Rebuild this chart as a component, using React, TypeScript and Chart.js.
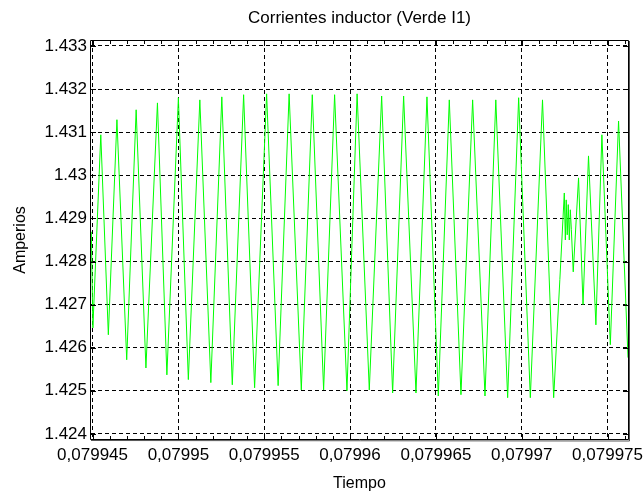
import { useEffect, useRef } from "react";
import { Chart, registerables } from "chart.js";

Chart.register(...registerables);

const chartTitle = "Corrientes inductor (Verde I1)";
const xAxisTitle = "Tiempo";
const yAxisTitle = "Amperios";

const xTickValues = [0.079945, 0.07995, 0.079955, 0.07996, 0.079965, 0.07997, 0.079975];
const xTickLabels = ["0,079945", "0,07995", "0,079955", "0,07996", "0,079965", "0,07997", "0,079975"];
const yTickValues = [1.424, 1.425, 1.426, 1.427, 1.428, 1.429, 1.43, 1.431, 1.432, 1.433];
const yTickLabels = ["1.424", "1.425", "1.426", "1.427", "1.428", "1.429", "1.43", "1.431", "1.432", "1.433"];

const xMin = 0.07994491;
const xMax = 0.07997619;
const yMin = 1.423882;
const yMax = 1.433116;

// Inductor current I1 (green trace): time [s]
const timeS = [
  0.07994493, 0.07994502, 0.07994548, 0.07994592, 0.07994642, 0.07994699, 0.07994754, 0.07994811,
  0.07994878, 0.07994933, 0.07995, 0.07995058, 0.07995125, 0.07995189, 0.07995253, 0.07995314,
  0.0799538, 0.07995444, 0.07995514, 0.07995581, 0.07995645, 0.07995716, 0.0799578, 0.07995846,
  0.0799591, 0.07995982, 0.07996041, 0.07996112, 0.07996184, 0.07996248, 0.07996312, 0.07996384,
  0.07996448, 0.07996514, 0.07996578, 0.07996646, 0.07996714, 0.07996786, 0.07996849, 0.07996918,
  0.07996982, 0.0799705, 0.07997121, 0.07997186, 0.07997222, 0.07997248, 0.07997254, 0.07997259,
  0.07997265, 0.07997271, 0.07997277, 0.07997283, 0.07997289, 0.079973, 0.07997331, 0.07997357,
  0.07997389, 0.07997432, 0.07997467, 0.07997516, 0.07997564, 0.07997619,
];

// Inductor current I1: amperes
const currentA = [
  1.42869, 1.42646, 1.43094, 1.4263, 1.43129, 1.42572, 1.43152, 1.42553,
  1.43168, 1.42537, 1.4318, 1.42526, 1.43175, 1.42519, 1.43182, 1.42514,
  1.43187, 1.42507, 1.43189, 1.42512, 1.43189, 1.42502, 1.43187, 1.42502,
  1.43187, 1.425, 1.43189, 1.42502, 1.43184, 1.42495, 1.43184, 1.42495,
  1.43182, 1.42488, 1.43175, 1.42491, 1.43175, 1.42488, 1.43175, 1.42484,
  1.4318, 1.42484, 1.43175, 1.42484, 1.42758, 1.42959, 1.4285, 1.42943,
  1.42862, 1.42932, 1.4285, 1.4292, 1.42874, 1.42776, 1.42994, 1.427,
  1.43045, 1.42653, 1.43094, 1.42607, 1.43126, 1.42577,
];

const FONT = "'Liberation Sans', Arial, sans-serif";

const framePlugin = {
  id: "matlabFrame",
  afterDraw(chart: any) {
    const { ctx, chartArea } = chart;
    const { left, right, top, bottom } = chartArea;
    const xs = chart.scales.x;
    const ys = chart.scales.y;
    ctx.save();
    ctx.strokeStyle = "#000";
    ctx.lineWidth = 1;
    ctx.setLineDash([]);
    ctx.beginPath();
    ctx.rect(Math.round(left) - 0.5, Math.round(top) - 0.5, Math.round(right - left) + 1, Math.round(bottom - top) + 1);
    ctx.stroke();
    ctx.strokeStyle = "#555";
    ctx.beginPath();
    ctx.moveTo(Math.round(right) + 1.5, Math.round(top));
    ctx.lineTo(Math.round(right) + 1.5, Math.round(bottom) + 2);
    ctx.lineTo(Math.round(left), Math.round(bottom) + 1.5);
    ctx.stroke();
    ctx.strokeStyle = "#000";
    ctx.beginPath();
    const major = 5;
    const minor = 3;
    xTickValues.forEach((v) => {
      const p = Math.round(xs.getPixelForValue(v)) + 0.5;
      ctx.moveTo(p, bottom);
      ctx.lineTo(p, bottom - major);
      ctx.moveTo(p, top);
      ctx.lineTo(p, top + major);
    });
    const step = xTickValues[1] - xTickValues[0];
    for (let i = -1; i < xTickValues.length; i++) {
      for (let k = 1; k < 5; k++) {
        const v = xTickValues[0] + i * step + (k * step) / 5;
        if (v <= xMin || v >= xMax) continue;
        const p = Math.round(xs.getPixelForValue(v)) + 0.5;
        ctx.moveTo(p, bottom);
        ctx.lineTo(p, bottom - minor);
        ctx.moveTo(p, top);
        ctx.lineTo(p, top + minor);
      }
    }
    yTickValues.forEach((v) => {
      const p = Math.round(ys.getPixelForValue(v)) + 0.5;
      ctx.moveTo(left, p);
      ctx.lineTo(left + major, p);
      ctx.moveTo(right, p);
      ctx.lineTo(right - major, p);
    });
    ctx.stroke();
    ctx.restore();
  },
};

export default function App() {
  const ref = useRef<HTMLCanvasElement | null>(null);

  useEffect(() => {
    if (!ref.current) return;
    const points = timeS.map((t, i) => ({ x: t, y: currentA[i] }));
    const chart = new Chart(ref.current, {
      type: "line",
      data: {
        datasets: [
          {
            data: points,
            borderColor: "#00ff00",
            borderWidth: 1,
            pointRadius: 0,
            tension: 0,
            fill: false,
          },
        ],
      },
      options: {
        responsive: false,
        animation: false,
        layout: { padding: { left: 11, right: 16, top: 0, bottom: 0 } },
        plugins: {
          legend: { display: false },
          tooltip: { enabled: false },
          title: {
            display: true,
            text: chartTitle,
            fullSize: false,
            color: "#000",
            font: { family: FONT, size: 17, weight: "normal", lineHeight: 1.2 },
            padding: { top: 8, bottom: 12.6 },
          },
        },
        scales: {
          x: {
            type: "linear",
            min: xMin,
            max: xMax,
            afterBuildTicks: (scale: any) => {
              scale.ticks = xTickValues.map((v) => ({ value: v }));
            },
            afterFit: (scale: any) => {
              scale.height = 54;
              scale.paddingLeft = 0;
              scale.paddingRight = 0;
            },
            ticks: {
              color: "#000",
              font: { family: FONT, size: 17 },
              padding: 6,
              maxRotation: 0,
              autoSkip: false,
              callback: (v: any) => {
                const i = xTickValues.findIndex((t) => Math.abs(t - Number(v)) < 1e-10);
                return i >= 0 ? xTickLabels[i] : "";
              },
            },
            grid: { color: "#000", lineWidth: 1, drawTicks: false },
            border: { display: false, dash: [4, 3] },
            title: {
              display: true,
              text: xAxisTitle,
              color: "#000",
              font: { family: FONT, size: 16 },
              padding: 0,
            },
          },
          y: {
            type: "linear",
            min: yMin,
            max: yMax,
            afterBuildTicks: (scale: any) => {
              scale.ticks = yTickValues.map((v) => ({ value: v }));
            },
            afterFit: (scale: any) => {
              scale.width = 80;
              scale.paddingTop = 0;
              scale.paddingBottom = 0;
            },
            ticks: {
              color: "#000",
              font: { family: FONT, size: 17 },
              padding: 4,
              autoSkip: false,
              callback: (v: any) => {
                const i = yTickValues.findIndex((t) => Math.abs(t - Number(v)) < 1e-9);
                return i >= 0 ? yTickLabels[i] : "";
              },
            },
            grid: { color: "#000", lineWidth: 1, drawTicks: false },
            border: { display: false, dash: [4, 3] },
            title: {
              display: true,
              text: yAxisTitle,
              color: "#000",
              font: { family: FONT, size: 16 },
              padding: 0,
            },
          },
        },
      },
      plugins: [framePlugin],
    });
    return () => chart.destroy();
  }, []);

  return (
    <div style={{ position: "fixed", left: 0, top: 0, width: 644, height: 493, background: "#fff" }}>
      <canvas ref={ref} width={644} height={493} style={{ display: "block" }} />
    </div>
  );
}
